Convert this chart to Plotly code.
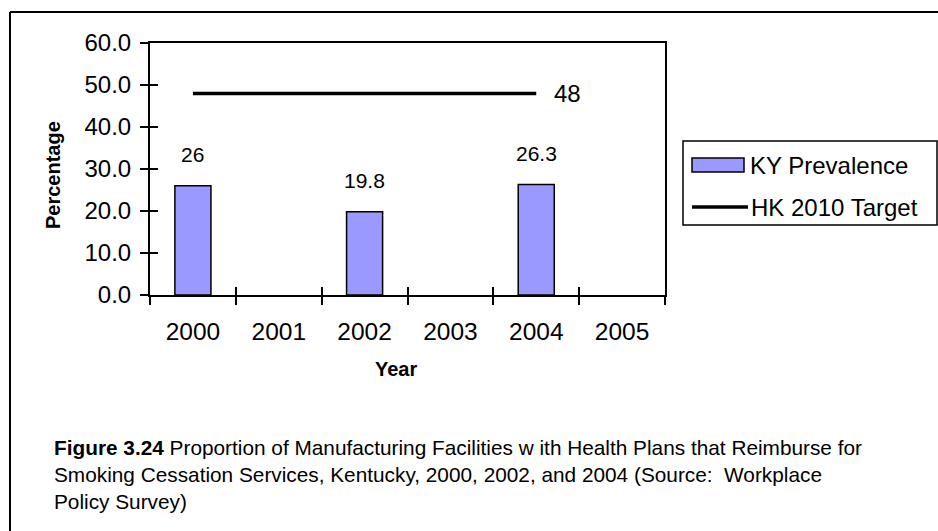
import plotly.graph_objects as go

years = [2000, 2001, 2002, 2003, 2004, 2005]
ky_years = [2000, 2002, 2004]
ky_prevalence = [26, 19.8, 26.3]
target_years = [2000, 2001, 2002, 2003, 2004]
hk_target = [48, 48, 48, 48, 48]
y_ticks = [0, 10, 20, 30, 40, 50, 60]
caption_lines = [
    "<b>Figure 3.24</b> Proportion of Manufacturing Facilities w ith Health Plans that Reimburse for",
    "Smoking Cessation Services, Kentucky, 2000, 2002, and 2004 (Source:  Workplace",
    "Policy Survey)",
]

W, H = 938, 531
L, R, T, B = 150, 273, 43, 236
PW, PH = W - L - R, H - T - B
FONT = "Arial, Liberation Sans, sans-serif"
BAR_COLOR = "#9999FF"


def px(x):
    return (x - L) / PW


def py(y):
    return (H - B - y) / PH


def label(x, y, text, size, **kw):
    d = dict(x=px(x), y=py(y), xref="paper", yref="paper", text=text, showarrow=False,
             xanchor="center", yanchor="middle", font=dict(size=size, color="black", family=FONT))
    d.update(kw)
    return d


fig = go.Figure()
fig.add_trace(go.Bar(
    x=ky_years, y=ky_prevalence, width=0.42, name="KY Prevalence",
    marker=dict(color=BAR_COLOR, line=dict(color="black", width=1.5)),
))
fig.add_trace(go.Scatter(
    x=target_years, y=hk_target, mode="lines", name="HK 2010 Target",
    line=dict(color="black", width=3.5),
))
# empty traces so the tick-only overlay axes get drawn
for xa in ["x2", "x3"]:
    fig.add_trace(go.Scatter(x=[years[0]], y=[0], xaxis=xa, yaxis="y2", mode="markers",
                             marker=dict(opacity=0), hoverinfo="skip", showlegend=False))

annotations = []
for x, v in zip(ky_years, ky_prevalence):
    annotations.append(dict(x=x, y=v, xref="x", yref="y", text=f"{v:g}",
                            showarrow=False, xanchor="center", yanchor="bottom", yshift=18,
                            font=dict(size=21, color="black", family=FONT)))
annotations.append(dict(x=target_years[-1], y=hk_target[-1], xref="x", yref="y",
                        text=f"{hk_target[-1]:g}", showarrow=False, xanchor="left",
                        yanchor="middle", xshift=16, font=dict(size=24, color="black", family=FONT)))

# axis titles
annotations.append(label(53, 175, "<b>Percentage</b>", 20, textangle=-90))
annotations.append(label(396, 369, "<b>Year</b>", 20))

# legend
annotations.append(label(748, 165, "KY Prevalence", 24, xanchor="left"))
annotations.append(label(749, 207, "HK 2010 Target", 24, xanchor="left"))

# caption
for i, line in enumerate(caption_lines):
    annotations.append(label(52, 447 + 27 * i, line, 20.8, xanchor="left"))

shapes = [
    # outer frame (top and left visible)
    dict(type="line", xref="paper", yref="paper", x0=px(10), x1=px(940), y0=py(12), y1=py(12),
         line=dict(color="black", width=2)),
    dict(type="line", xref="paper", yref="paper", x0=px(10), x1=px(10), y0=py(12), y1=py(535),
         line=dict(color="black", width=2)),
    # legend box
    dict(type="rect", xref="paper", yref="paper", x0=px(683), x1=px(937), y0=py(141), y1=py(225),
         line=dict(color="black", width=1.5), fillcolor="white"),
    dict(type="rect", xref="paper", yref="paper", x0=px(692), x1=px(744), y0=py(158), y1=py(172),
         line=dict(color="black", width=1.5), fillcolor=BAR_COLOR),
    dict(type="line", xref="paper", yref="paper", x0=px(692), x1=px(748), y0=py(207), y1=py(207),
         line=dict(color="black", width=3.5)),
]

boundaries = [y - 0.5 for y in years] + [years[-1] + 0.5]
xr = [years[0] - 0.5, years[-1] + 0.5]

fig.update_layout(
    width=W, height=H,
    margin=dict(l=L, r=R, t=T, b=B),
    paper_bgcolor="white", plot_bgcolor="white",
    showlegend=False,
    font=dict(family=FONT, color="black"),
    annotations=annotations,
    shapes=shapes,
    xaxis=dict(range=xr, tickvals=years, ticktext=[str(y) for y in years], ticks="",
               showgrid=False, zeroline=False, showline=True, linecolor="black", linewidth=2,
               mirror=True, tickfont=dict(size=24.5), ticklabelstandoff=14),
    xaxis2=dict(range=xr, overlaying="x", anchor="y", tickvals=boundaries, ticks="outside",
                ticklen=9, tickwidth=2, tickcolor="black", showticklabels=False,
                showgrid=False, zeroline=False, showline=False),
    xaxis3=dict(range=xr, overlaying="x", anchor="y", tickvals=boundaries, ticks="inside",
                ticklen=8, tickwidth=2, tickcolor="black", showticklabels=False,
                showgrid=False, zeroline=False, showline=False),
    yaxis=dict(range=[0, 60], tickvals=y_ticks, tickformat=".1f", ticks="outside", ticklen=8,
               tickwidth=2, tickcolor="black", showgrid=False, zeroline=False, showline=True,
               linecolor="black", linewidth=2, mirror=True, tickfont=dict(size=24),
               ticklabelstandoff=4),
    yaxis2=dict(range=[0, 60], overlaying="y", anchor="x", tickvals=y_ticks, ticks="inside",
                ticklen=8, tickwidth=2, tickcolor="black", showticklabels=False,
                showgrid=False, zeroline=False, showline=False),
)

fig.write_html("out.html", config={"displayModeBar": False},
               post_script="document.body.style.margin='0';")
